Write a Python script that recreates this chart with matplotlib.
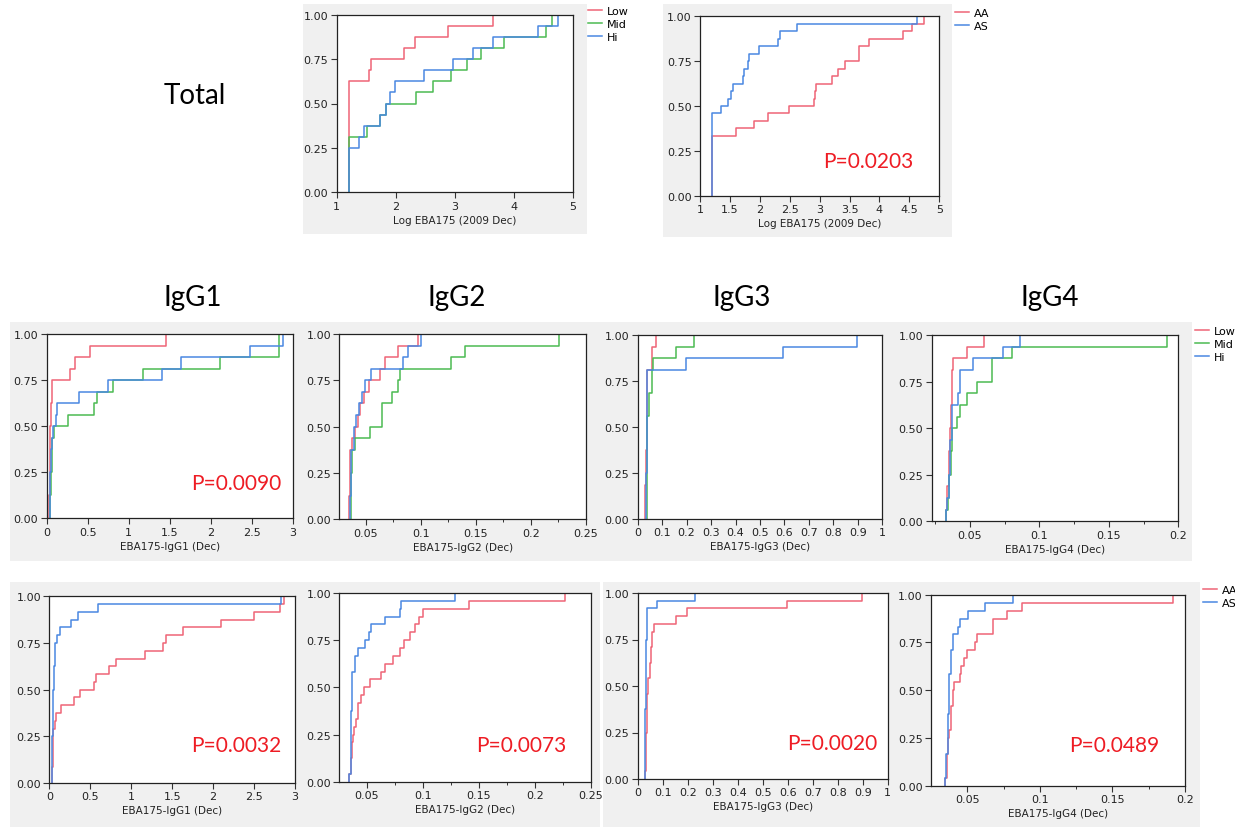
import numpy as np
import matplotlib
matplotlib.use('Agg')
from matplotlib import pyplot as plt
from matplotlib.patches import Rectangle

# ---- data: step positions (x) and cumulative level after each step (y) ----
# Total, tertiles
tot_low_x = [1.2, 1.55, 1.58, 2.14, 2.32, 2.88, 3.65]
tot_low_y = [0.625, 0.6875, 0.75, 0.8125, 0.875, 0.9375, 1.0]
tot_mid_x = [1.2, 1.52, 1.74, 1.83, 2.35, 2.63, 2.94, 3.21, 3.44, 3.83, 4.55, 4.65]
tot_mid_y = [0.3125, 0.375, 0.4375, 0.5, 0.5625, 0.625, 0.6875, 0.75, 0.8125, 0.875, 0.9375, 1.0]
tot_hi_x = [1.2, 1.37, 1.47, 1.73, 1.83, 1.9, 1.99, 2.48, 2.97, 3.31, 3.65, 4.4, 4.75]
tot_hi_y = [0.25, 0.3125, 0.375, 0.4375, 0.5, 0.5625, 0.625, 0.6875, 0.75, 0.8125, 0.875, 0.9375, 1.0]

# Total, AA vs AS
tot_aa_x = [1.195, 1.6, 1.91, 2.13, 2.48, 2.9, 2.92, 2.94, 3.2, 3.3, 3.43, 3.65, 3.66, 3.82, 4.39, 4.54, 4.75]
tot_aa_y = [0.3333, 0.375, 0.4167, 0.4583, 0.5, 0.5417, 0.5833, 0.625, 0.6667, 0.7083, 0.75, 0.7917, 0.8333,
            0.875, 0.9167, 0.9583, 1.0]
tot_as_x = [1.195, 1.35, 1.46, 1.51, 1.55, 1.72, 1.73, 1.81, 1.82, 1.99, 2.31, 2.34, 2.62, 4.63]
tot_as_y = [0.4583, 0.5, 0.5417, 0.5833, 0.625, 0.6667, 0.7083, 0.75, 0.7917, 0.8333, 0.875, 0.9167, 0.9583, 1.0]

# IgG1, tertiles
g1_low_x = [0.03, 0.035, 0.04, 0.05, 0.07, 0.29, 0.35, 0.53, 1.45]
g1_low_y = [0.125, 0.3125, 0.5, 0.625, 0.75, 0.8125, 0.875, 0.9375, 1.0]
g1_mid_x = [0.045, 0.05, 0.06, 0.07, 0.09, 0.26, 0.58, 0.61, 0.81, 1.18, 2.11, 2.83]
g1_mid_y = [0.125, 0.25, 0.375, 0.4375, 0.5, 0.5625, 0.625, 0.6875, 0.75, 0.8125, 0.875, 1.0]
g1_hi_x = [0.04, 0.045, 0.05, 0.06, 0.08, 0.11, 0.13, 0.39, 0.75, 1.4, 1.64, 2.48, 2.88]
g1_hi_y = [0.125, 0.25, 0.375, 0.4375, 0.5, 0.5625, 0.625, 0.6875, 0.75, 0.8125, 0.875, 0.9375, 1.0]

# IgG2, tertiles
g2_low_x = [0.035, 0.0355, 0.036, 0.0374, 0.0404, 0.0434, 0.045, 0.048, 0.053, 0.063, 0.0674, 0.0795, 0.0975]
g2_low_y = [0.125, 0.25, 0.375, 0.4375, 0.5, 0.5625, 0.625, 0.6875, 0.75, 0.8125, 0.875, 0.9375, 1.0]
g2_mid_x = [0.0362, 0.0367, 0.0372, 0.04, 0.054, 0.065, 0.0734, 0.0795, 0.081, 0.1275, 0.14, 0.2252]
g2_mid_y = [0.125, 0.25, 0.375, 0.4375, 0.5, 0.625, 0.6875, 0.75, 0.8125, 0.875, 0.9375, 1.0]
g2_hi_x = [0.0358, 0.0363, 0.0368, 0.039, 0.041, 0.044, 0.0464, 0.049, 0.055, 0.0834, 0.0885, 0.1]
g2_hi_y = [0.125, 0.25, 0.375, 0.5, 0.5625, 0.625, 0.6875, 0.75, 0.8125, 0.875, 0.9375, 1.0]

# IgG3, tertiles
g3_low_x = [0.03, 0.033, 0.036, 0.04, 0.057, 0.073]
g3_low_y = [0.1875, 0.375, 0.625, 0.8125, 0.9375, 1.0]
g3_mid_x = [0.037, 0.04, 0.048, 0.057, 0.064, 0.155, 0.23]
g3_mid_y = [0.3125, 0.5625, 0.6875, 0.8125, 0.875, 0.9375, 1.0]
g3_hi_x = [0.033, 0.036, 0.038, 0.04, 0.196, 0.595, 0.898]
g3_hi_y = [0.25, 0.5625, 0.6875, 0.8125, 0.875, 0.9375, 1.0]

# IgG4, tertiles
g4_low_x = [0.0325, 0.0335, 0.0345, 0.0355, 0.0362, 0.0368, 0.038, 0.048, 0.06]
g4_low_y = [0.0625, 0.1875, 0.375, 0.5, 0.625, 0.8125, 0.875, 0.9375, 1.0]
g4_mid_x = [0.033, 0.034, 0.035, 0.036, 0.0372, 0.0404, 0.043, 0.0476, 0.0548, 0.0656, 0.08, 0.1916]
g4_mid_y = [0.0625, 0.125, 0.25, 0.375, 0.5, 0.5625, 0.625, 0.6875, 0.75, 0.875, 0.9375, 1.0]
g4_hi_x = [0.0325, 0.0335, 0.0345, 0.0355, 0.037, 0.0416, 0.043, 0.0524, 0.074, 0.086]
g4_hi_y = [0.0625, 0.125, 0.25, 0.4375, 0.625, 0.6875, 0.8125, 0.875, 0.9375, 1.0]

# IgG1, AA vs AS
a1_aa_x = [0.03, 0.04, 0.05, 0.065, 0.08, 0.14, 0.3, 0.38, 0.54, 0.57, 0.73, 0.82, 1.17, 1.39, 1.43, 1.63,
           2.1, 2.5, 2.82, 2.87]
a1_aa_y = [0.0833, 0.1667, 0.2917, 0.3333, 0.375, 0.4167, 0.4583, 0.5, 0.5417, 0.5833, 0.625, 0.6667, 0.7083,
           0.75, 0.7917, 0.8333, 0.875, 0.9167, 0.9583, 1.0]
a1_as_x = [0.028, 0.035, 0.045, 0.055, 0.068, 0.096, 0.13, 0.27, 0.35, 0.6, 2.83]
a1_as_y = [0.0417, 0.25, 0.5, 0.625, 0.75, 0.7917, 0.8333, 0.875, 0.9167, 0.9583, 1.0]

# IgG2, AA vs AS
a2_aa_x = [0.0345, 0.0362, 0.037, 0.038, 0.039, 0.040, 0.0425, 0.0446, 0.0476, 0.053, 0.0625, 0.066, 0.073,
           0.08, 0.083, 0.089, 0.093, 0.0968, 0.1, 0.141, 0.227]
a2_aa_y = [0.0417, 0.125, 0.2083, 0.25, 0.2917, 0.3333, 0.4167, 0.4583, 0.5, 0.5417, 0.5833, 0.625, 0.6667,
           0.7083, 0.75, 0.7917, 0.8333, 0.875, 0.9167, 0.9583, 1.0]
a2_as_x = [0.0345, 0.0355, 0.036, 0.0365, 0.037, 0.0396, 0.0425, 0.0485, 0.052, 0.054, 0.0664, 0.08, 0.0805, 0.129]
a2_as_y = [0.0417, 0.1667, 0.375, 0.5, 0.5833, 0.6667, 0.7083, 0.75, 0.7917, 0.8333, 0.875, 0.9167, 0.9583, 1.0]

# IgG3, AA vs AS
a3_aa_x = [0.029, 0.033, 0.036, 0.043, 0.049, 0.053, 0.059, 0.067, 0.152, 0.196, 0.596, 0.896]
a3_aa_y = [0.0417, 0.25, 0.4583, 0.5417, 0.625, 0.7083, 0.7917, 0.8333, 0.875, 0.9167, 0.9583, 1.0]
a3_as_x = [0.029, 0.031, 0.033, 0.036, 0.076, 0.23]
a3_as_y = [0.0417, 0.375, 0.75, 0.9167, 0.9583, 1.0]

# IgG4, AA vs AS
a4_aa_x = [0.0346, 0.036, 0.0368, 0.0376, 0.0385, 0.0399, 0.0408, 0.045, 0.046, 0.0477, 0.05, 0.0553, 0.0569,
           0.0675, 0.0771, 0.088, 0.1915]
a4_aa_y = [0.0417, 0.1667, 0.25, 0.2917, 0.4167, 0.5, 0.5417, 0.5833, 0.625, 0.6667, 0.7083, 0.75, 0.7917,
           0.875, 0.9167, 0.9583, 1.0]
a4_as_x = [0.0346, 0.0355, 0.0365, 0.0375, 0.0385, 0.0399, 0.0438, 0.045, 0.0507, 0.062, 0.0817]
a4_as_y = [0.0417, 0.1667, 0.375, 0.5833, 0.7083, 0.7917, 0.8333, 0.875, 0.9167, 0.9583, 1.0]

tert_labels = ['Low', 'Mid', 'Hi']
geno_labels = ['AA', 'AS']
p_values = ['P=0.0203', 'P=0.0090', 'P=0.0032', 'P=0.0073', 'P=0.0020', 'P=0.0489']

RED = '#ef6577'
GREEN = '#4cbb52'
BLUE = '#4a88e2'
PRED = '#ee1c24'
GRAY_BG = '#f0f0f0'

W, H = 1235, 828
fig = plt.figure(figsize=(W / 100, H / 100), dpi=100)
fig.patch.set_facecolor('white')


def px_axes(l, r, t, b):
    return fig.add_axes([l / W, 1 - b / H, (r - l) / W, (b - t) / H])


def gray_box(l, r, t, b):
    fig.add_artist(Rectangle((l / W, 1 - b / H), (r - l) / W, (b - t) / H, transform=fig.transFigure,
                             facecolor=GRAY_BG, edgecolor='none', zorder=-5))


def fmt_g(v, pos):
    return '%g' % round(v, 6)


def setup(ax, xlim, xticks, xlabel, minor=None):
    ax.set_xlim(*xlim)
    ax.set_ylim(0, 1)
    ax.set_xticks(xticks)
    ax.xaxis.set_major_formatter(plt.FuncFormatter(fmt_g))
    if minor is not None:
        ax.set_xticks(minor, minor=True)
    ax.set_yticks([0, 0.25, 0.5, 0.75, 1.0])
    ax.yaxis.set_major_formatter(plt.FuncFormatter(lambda v, p: '%.2f' % v))
    ax.tick_params(which='major', direction='out', length=4, width=0.8, color='#333333',
                   labelsize=8, labelcolor='#222222', pad=2)
    ax.tick_params(which='minor', direction='out', length=2.5, width=0.7, color='#333333')
    for s in ax.spines.values():
        s.set_linewidth(0.9)
        s.set_color('#222222')
    ax.set_xlabel(xlabel, fontsize=7.5, color='#222222', labelpad=3)
    ax.set_facecolor('white')


def curve(ax, xs, ys, color, label=None):
    line, = ax.step(np.r_[xs[0], xs], np.r_[0, ys], where='post', color=color, lw=1.1, label=label)
    return line


def legend(ax, handles, labels, l, t):
    ax.legend(handles, labels, loc='upper left', bbox_to_anchor=(l / W, 1 - t / H), bbox_transform=fig.transFigure,
              frameon=False, fontsize=8, handlelength=1.3, handletextpad=0.4, labelspacing=0.25,
              borderpad=0, borderaxespad=0)


def ptext(ax, x, y, s):
    fig.text(x / W, 1 - y / H, s, color=PRED, fontsize=15, family='Lato', ha='center', va='center')


# gray panel backgrounds
gray_box(303, 587, 5, 235)
gray_box(663, 952, 5, 238)
for (l, r) in [(10, 300), (300, 600), (600, 895), (895, 1192)]:
    gray_box(l, r, 323, 562)
for (l, r) in [(10, 300), (300, 600), (603, 895), (895, 1200)]:
    gray_box(l, r, 583, 828)

# titles
fig.text(195 / W, 1 - 96 / H, 'Total', fontsize=20, family='Lato', ha='center', va='center')
for x, s in [(193, 'IgG1'), (457, 'IgG2'), (742, 'IgG3'), (1050, 'IgG4')]:
    fig.text(x / W, 1 - 298 / H, s, fontsize=20, family='Lato', ha='center', va='center')

# Total, tertiles
ax = px_axes(336.7, 573, 15.7, 193.3)
setup(ax, (1, 5), [1, 2, 3, 4, 5], 'Log EBA175 (2009 Dec)')
h1 = curve(ax, tot_low_x, tot_low_y, RED)
h2 = curve(ax, tot_mid_x, tot_mid_y, GREEN)
h3 = curve(ax, tot_hi_x, tot_hi_y, BLUE)
legend(ax, [h1, h2, h3], tert_labels, 588, 7)

# Total, AA vs AS
ax = px_axes(700, 939.3, 17.3, 196.7)
setup(ax, (1, 5), np.arange(1, 5.01, 0.5), 'Log EBA175 (2009 Dec)')
h1 = curve(ax, tot_aa_x, tot_aa_y, RED)
h2 = curve(ax, tot_as_x, tot_as_y, BLUE)
legend(ax, [h1, h2], geno_labels, 955, 9)
ptext(ax, 868, 162, p_values[0])

# row 2: tertiles
ax = px_axes(46.7, 292.7, 335, 519.3)
setup(ax, (0, 3), np.arange(0, 3.01, 0.5), 'EBA175-IgG1 (Dec)')
curve(ax, g1_low_x, g1_low_y, RED)
curve(ax, g1_mid_x, g1_mid_y, GREEN)
curve(ax, g1_hi_x, g1_hi_y, BLUE)
ptext(ax, 236, 484, p_values[1])

ax = px_axes(339.3, 586, 335, 520.3)
setup(ax, (0.026, 0.25), [0.05, 0.1, 0.15, 0.2, 0.25], 'EBA175-IgG2 (Dec)', minor=[0.075, 0.125, 0.175, 0.225])
curve(ax, g2_low_x, g2_low_y, RED)
curve(ax, g2_mid_x, g2_mid_y, GREEN)
curve(ax, g2_hi_x, g2_hi_y, BLUE)

ax = px_axes(637.7, 882.3, 336, 520)
setup(ax, (0, 1), np.arange(0, 1.01, 0.1), 'EBA175-IgG3 (Dec)')
curve(ax, g3_low_x, g3_low_y, RED)
curve(ax, g3_mid_x, g3_mid_y, GREEN)
curve(ax, g3_hi_x, g3_hi_y, BLUE)

ax = px_axes(931.7, 1178.3, 336, 522.3)
setup(ax, (0.0224, 0.2), [0.05, 0.1, 0.15, 0.2], 'EBA175-IgG4 (Dec)', minor=[0.025, 0.075, 0.125, 0.175])
h1 = curve(ax, g4_low_x, g4_low_y, RED)
h2 = curve(ax, g4_mid_x, g4_mid_y, GREEN)
h3 = curve(ax, g4_hi_x, g4_hi_y, BLUE)
legend(ax, [h1, h2, h3], tert_labels, 1195, 327)

# row 3: AA vs AS
ax = px_axes(49.3, 295, 597.3, 784)
setup(ax, (0, 3), np.arange(0, 3.01, 0.5), 'EBA175-IgG1 (Dec)')
curve(ax, a1_aa_x, a1_aa_y, RED)
curve(ax, a1_as_x, a1_as_y, BLUE)
ptext(ax, 236, 746, p_values[2])

ax = px_axes(339.3, 591, 594, 782.7)
setup(ax, (0.0255, 0.25), [0.05, 0.1, 0.15, 0.2, 0.25], 'EBA175-IgG2 (Dec)', minor=[0.075, 0.125, 0.175, 0.225])
curve(ax, a2_aa_x, a2_aa_y, RED)
curve(ax, a2_as_x, a2_as_y, BLUE)
ptext(ax, 521, 746, p_values[3])

ax = px_axes(637.7, 887.7, 594, 780)
setup(ax, (0, 1), np.arange(0, 1.01, 0.1), 'EBA175-IgG3 (Dec)')
curve(ax, a3_aa_x, a3_aa_y, RED)
curve(ax, a3_as_x, a3_as_y, BLUE)
ptext(ax, 832, 744, p_values[4])

ax = px_axes(931, 1185, 595.7, 786.7)
setup(ax, (0.025, 0.2), [0.05, 0.1, 0.15, 0.2], 'EBA175-IgG4 (Dec)', minor=[0.075, 0.125, 0.175])
h1 = curve(ax, a4_aa_x, a4_aa_y, RED)
h2 = curve(ax, a4_as_x, a4_as_y, BLUE)
legend(ax, [h1, h2], geno_labels, 1203, 586)
ptext(ax, 1114, 746, p_values[5])

fig.savefig('out.png', dpi=100, facecolor='white')
plt.close(fig)
